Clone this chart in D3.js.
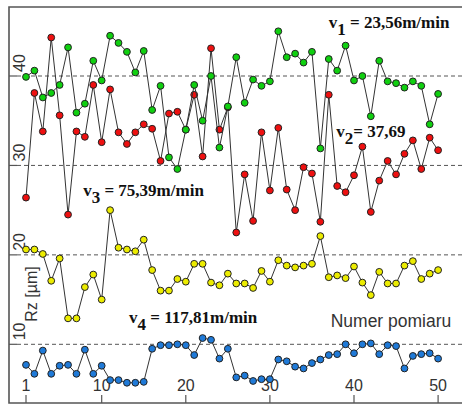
<!DOCTYPE html>
<html lang="pl">
<head>
    <meta charset="UTF-8">
    <title>Rz - numer pomiaru</title>
    <script src="https://d3js.org/d3.v7.min.js"></script>
    <style>
        body { margin: 0; background: #fff; }
        svg { display: block; background: #fff; }
    </style>
</head>
<body>
    <svg width="463" height="406"></svg>

    <script>
        // pomiary Rz dla czterech predkosci skrawania (50 pomiarow kazda)
        const pomiar = d3.range(1, 51);
        const rzV1 = [39.9, 40.6, 37.6, 38.1, 39.0, 43.2, 35.9, 36.9, 41.7, 39.5, 44.5, 43.7, 42.7, 40.4, 42.8, 36.2, 38.9, 30.9, 29.6, 34.0,
                      39.0, 35.0, 40.0, 32.0, 36.6, 42.1, 37.0, 39.6, 38.9, 39.4, 45.0, 42.1, 42.5, 41.5, 42.7, 31.9, 41.9, 40.6, 43.4, 39.5,
                      40.0, 35.5, 41.7, 39.4, 39.2, 38.7, 39.4, 38.9, 34.6, 38.0];
        const rzV2 = [26.4, 38.1, 33.8, 44.3, 35.6, 24.5, 33.8, 33.2, 39.0, 32.6, 38.5, 33.7, 32.4, 33.7, 34.6, 34.1, 30.5, 35.8, 36.0, 34.0,
                      37.9, 31.0, 43.1, 34.0, 36.5, 22.5, 29.0, 23.8, 33.7, 27.2, 34.2, 27.3, 25.0, 29.8, 29.1, 23.7, 37.9, 27.7, 27.0, 28.9,
                      32.1, 24.8, 28.3, 30.5, 29.0, 31.3, 32.8, 29.6, 33.1, 31.7];
        const rzV3 = [20.6, 20.6, 20.1, 17.1, 19.6, 12.9, 12.9, 16.4, 17.8, 15.0, 25.0, 20.8, 20.6, 20.4, 21.7, 18.3, 16.0, 16.0, 17.3, 17.0,
                      19.0, 19.0, 16.9, 16.6, 17.9, 16.8, 16.8, 16.3, 18.2, 17.0, 19.4, 18.8, 18.6, 18.8, 19.0, 22.1, 17.5, 17.7, 17.4, 18.7,
                      16.9, 15.5, 18.1, 16.8, 16.8, 18.8, 19.3, 17.3, 17.9, 18.3];
        const rzV4 = [7.7, 6.7, 9.3, 6.7, 7.6, 7.7, 6.7, 9.4, 6.7, 7.6, 6.0, 6.0, 5.7, 5.7, 5.8, 9.5, 9.9, 9.9, 10.0, 9.9,
                      8.8, 10.7, 10.5, 8.4, 9.5, 6.3, 6.5, 5.9, 6.1, 6.1, 8.3, 8.1, 7.5, 7.3, 7.9, 8.3, 8.8, 8.9, 10.0, 9.0,
                      10.0, 10.1, 8.9, 9.9, 9.8, 7.3, 8.7, 8.9, 9.0, 8.4];

        const xTicks = [1, 10, 20, 30, 40, 50];
        const yTicks = [10, 20, 30, 40];

        // opisy predkosci: [v, indeks, reszta], miejsce w jednostkach danych
        const opisy = [
            { parts: ["v", "1", " = 23,56m/min"], at: [37.0, 45.4] },
            { parts: ["v", "2", "= 37,69"], at: [37.9, 33.2] },
            { parts: ["v", "3", " = 75,39m/min"], at: [7.8, 26.6] },
            { parts: ["v", "4", " = 117,81m/min"], at: [13.25, 12.4] }
        ];

        const svg = d3.select("svg");
        const frame = { left: 9, top: 7, right: 462, bottom: 403 };

        const x = d3.scaleLinear().domain([1, 50]).range([26, 438.1]);
        const y = d3.scaleLinear().domain([10, 40]).range([344.3, 76]);

        // ramka (lewa, gorna, dolna)
        svg.append("path")
            .attr("d", `M${frame.right},${frame.top}H${frame.left}V${frame.bottom}H${frame.right}`)
            .attr("fill", "none")
            .attr("stroke", "#555")
            .attr("stroke-width", 1.6);

        // linie siatki + krotkie znaczniki
        yTicks.forEach(t => {
            svg.append("line")
                .attr("x1", frame.left).attr("x2", frame.left + 8)
                .attr("y1", y(t)).attr("y2", y(t))
                .attr("stroke", "#555").attr("stroke-width", 1.2);
            svg.append("line")
                .attr("x1", frame.left + 8).attr("x2", frame.right)
                .attr("y1", y(t)).attr("y2", y(t))
                .attr("stroke", "#555").attr("stroke-width", 1)
                .attr("stroke-dasharray", "4,3");
            svg.append("text")
                .attr("transform", `translate(25,${y(t) - 4}) rotate(-90)`)
                .attr("font-family", "Liberation Sans, Arial, sans-serif")
                .attr("font-size", 16)
                .attr("fill", "#333")
                .text(t);
        });

        xTicks.forEach(t => {
            svg.append("line")
                .attr("x1", x(t)).attr("x2", x(t))
                .attr("y1", frame.bottom).attr("y2", frame.bottom - 8)
                .attr("stroke", "#555").attr("stroke-width", 1.2);
            svg.append("text")
                .attr("x", x(t)).attr("y", 391)
                .attr("text-anchor", "middle")
                .attr("font-family", "Liberation Sans, Arial, sans-serif")
                .attr("font-size", 16)
                .attr("fill", "#333")
                .text(t);
        });

        // opisy osi
        svg.append("text")
            .attr("transform", "translate(37,294) rotate(-90)")
            .attr("text-anchor", "middle")
            .attr("font-family", "Liberation Sans, Arial, sans-serif")
            .attr("font-size", 16)
            .attr("fill", "#333")
            .text("Rz [µm]");

        svg.append("text")
            .attr("x", 391).attr("y", 327)
            .attr("text-anchor", "middle")
            .attr("font-family", "Liberation Sans, Arial, sans-serif")
            .attr("font-size", 17.5)
            .attr("fill", "#333")
            .text("Numer pomiaru");

        // serie: kolejnosc rysowania tak, jak w oryginale (zielone na wierzchu czerwonych)
        const serie = [
            { values: rzV4, color: "#1f7ad8" },
            { values: rzV3, color: "#ecec00" },
            { values: rzV2, color: "#ee1010" },
            { values: rzV1, color: "#10d010" }
        ];

        const line = d3.line()
            .x(d => x(d.n))
            .y(d => y(d.v));

        serie.forEach(s => {
            const data = pomiar.map((n, i) => ({ n: n, v: s.values[i] }));
            const g = svg.append("g");

            g.append("path")
                .datum(data)
                .attr("fill", "none")
                .attr("stroke", "#333")
                .attr("stroke-width", 1)
                .attr("d", line);

            g.selectAll("circle")
                .data(data)
                .join("circle")
                .attr("cx", d => x(d.n))
                .attr("cy", d => y(d.v))
                .attr("r", 3.4)
                .attr("fill", s.color)
                .attr("stroke", "#222")
                .attr("stroke-width", 1);
        });

        // napisy z predkosciami
        opisy.forEach(o => {
            const t = svg.append("text")
                .attr("x", x(o.at[0]))
                .attr("y", y(o.at[1]))
                .attr("font-family", "Liberation Serif, Times New Roman, serif")
                .attr("font-weight", "bold")
                .attr("font-size", 17)
                .attr("fill", "#111");
            t.append("tspan").text(o.parts[0]);
            t.append("tspan").attr("dy", 7).text(o.parts[1]);
            t.append("tspan").attr("dy", -7).text(o.parts[2]);
        });
    </script>
</body>
</html>
